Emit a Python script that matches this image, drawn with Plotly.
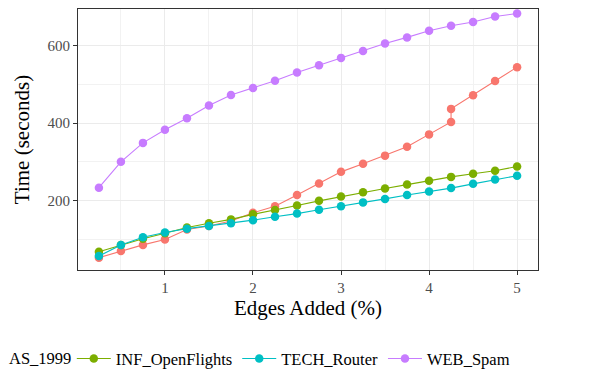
import plotly.graph_objects as go

x = [0.25, 0.5, 0.75, 1.0, 1.25, 1.5, 1.75, 2.0, 2.25, 2.5,
     2.75, 3.0, 3.25, 3.5, 3.75, 4.0, 4.25, 4.5, 4.75, 5.0]
x_as = [0.25, 0.5, 0.75, 1.0, 1.25, 1.5, 1.75, 2.0, 2.25, 2.5,
        2.75, 3.0, 3.25, 3.5, 3.75, 4.0, 4.25, 4.25, 4.5, 4.75, 5.0]

as_1999 = [52, 69, 85, 99, 125, 134, 147, 168, 185, 214,
           244, 274, 295, 316, 339, 371, 403, 437, 472, 509, 545]
inf_openflights = [67, 85, 101, 115, 130, 141, 151, 164, 175, 187,
                   199, 210, 221, 231, 241, 251, 261, 269, 277, 288]
tech_router = [56, 85, 105, 117, 127, 134, 141, 149, 158, 166,
               176, 185, 195, 204, 214, 223, 232, 243, 254, 264]
web_spam = [233, 300, 349, 383, 413, 446, 473, 491, 510, 531,
            550, 569, 587, 606, 622, 639, 652, 662, 676, 684]

x_ticks = [1, 2, 3, 4, 5]
y_ticks = [200, 400, 600]

colors = {"AS_1999": "#F8766D", "INF_OpenFlights": "#7CAE00",
          "TECH_Router": "#00BFC4", "WEB_Spam": "#C77CFF"}

FONT = "Liberation Serif"

fig = go.Figure()
series = [("AS_1999", x_as, as_1999), ("INF_OpenFlights", x, inf_openflights),
          ("TECH_Router", x, tech_router), ("WEB_Spam", x, web_spam)]
for name, xs, ys in series:
    fig.add_trace(go.Scatter(
        x=xs, y=ys, name=name, mode="lines+markers",
        line=dict(color=colors[name], width=1.1),
        marker=dict(color=colors[name], size=8.5),
        showlegend=(name != "AS_1999"),
    ))

# legend label whose key is cut off at the left edge in the original
fig.add_annotation(text="AS_1999", xref="paper", yref="paper",
                   x=-0.155, y=-0.34, xanchor="left", yanchor="middle",
                   showarrow=False, font=dict(family=FONT, size=16.5, color="black"))

axis_common = dict(
    showline=True, mirror=True, linecolor="#333333", linewidth=1,
    showgrid=True, gridcolor="#EBEBEB", gridwidth=1,
    ticks="outside", ticklen=4, tickcolor="#333333", tickwidth=1,
    tickfont=dict(family=FONT, size=15, color="#4D4D4D"),
    zeroline=False, automargin=False,
)

fig.update_xaxes(
    **axis_common, range=[0.0125, 5.2375], tickvals=x_ticks,
    minor=dict(showgrid=True, gridcolor="#F2F2F2", gridwidth=0.6, dtick=0.5, tick0=0.5),
    title=dict(text="Edges Added (%)", font=dict(family=FONT, size=21, color="black"), standoff=3),
)
fig.update_yaxes(
    **axis_common, range=[20, 695.5], tickvals=y_ticks,
    minor=dict(showgrid=True, gridcolor="#F2F2F2", gridwidth=0.6, dtick=100, tick0=100),
    title=dict(text="Time (seconds)", font=dict(family=FONT, size=21, color="black"), standoff=12),
)

fig.update_layout(
    width=584, height=368,
    margin=dict(l=70, r=54, t=1, b=106, autoexpand=False),
    paper_bgcolor="white", plot_bgcolor="white",
    font=dict(family=FONT, color="black"),
    legend=dict(orientation="h", x=-0.0135, xanchor="left", y=-0.34, yanchor="middle",
                font=dict(family=FONT, size=16.5, color="black"),
                bgcolor="rgba(0,0,0,0)", itemwidth=34, tracegroupgap=0),
)

fig.write_html("out.html")
